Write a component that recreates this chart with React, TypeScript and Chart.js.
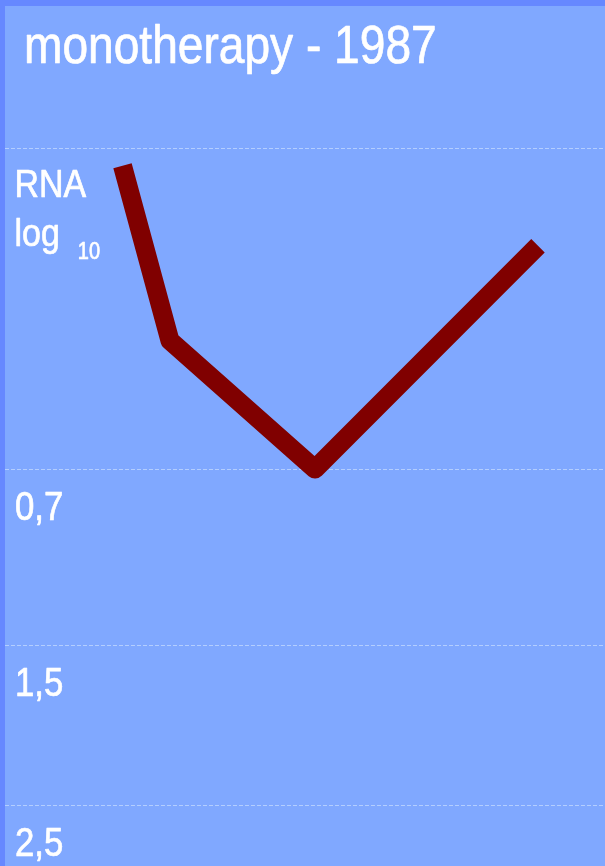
import React, { useEffect, useRef } from "react";
import { Chart, registerables } from "chart.js";

Chart.register(...registerables);

// ---- data ----
const TITLE = "monotherapy - 1987";
const TIME_POINTS = [11.75, 16.5, 31, 53.3];
const RNA_LEVELS = [10.69, 8.02, 6.06, 9.47];
const GRID_VALUES = [0.93, 3.37, 6.06, 10.95];
const GRID_LABELS = ["2,5", "1,5", "0,7", ""];
const AXIS_LABEL_LINES = ["RNA", "log"];
const AXIS_LABEL_SUB = "10";

const FONT = "'Liberation Sans', Arial, sans-serif";
const NARROW = 0.87; // horizontal squeeze to mimic a narrow face

const backgroundPlugin = {
  id: "slideBackground",
  beforeDraw(chart: any) {
    const { ctx, width, height } = chart;
    ctx.save();
    ctx.fillStyle = "#80A8FF";
    ctx.fillRect(0, 0, width, height);
    ctx.fillStyle = "#6688FF";
    ctx.fillRect(0, 0, 5, height);
    ctx.fillRect(0, 0, width, 6);
    ctx.restore();
  },
};

function narrowText(ctx: any, text: string, x: number, y: number, size: number) {
  ctx.save();
  ctx.font = `${size}px ${FONT}`;
  ctx.scale(NARROW, 1);
  ctx.fillStyle = "#FFFFFF";
  ctx.strokeStyle = "#FFFFFF";
  ctx.lineWidth = 0.7;
  ctx.lineJoin = "round";
  ctx.fillText(text, x / NARROW, y);
  ctx.strokeText(text, x / NARROW, y);
  const w = ctx.measureText(text).width * NARROW;
  ctx.restore();
  return w;
}

const textPlugin = {
  id: "slideText",
  afterDraw(chart: any) {
    const { ctx } = chart;
    const yScale = chart.scales.y;
    ctx.save();
    ctx.textBaseline = "alphabetic";
    ctx.textAlign = "left";
    narrowText(ctx, TITLE, 24, 63, 53);
    // tick labels under each grid line
    GRID_VALUES.forEach((v, i) => {
      const label = GRID_LABELS[i];
      if (!label) return;
      const py = yScale.getPixelForValue(v);
      narrowText(ctx, label, 15, py + 51, 40);
    });
    // axis label at the top grid line
    const top = yScale.getPixelForValue(GRID_VALUES[GRID_VALUES.length - 1]);
    narrowText(ctx, AXIS_LABEL_LINES[0], 14.5, top + 48, 39);
    const w = narrowText(ctx, AXIS_LABEL_LINES[1], 14.5, top + 97, 39);
    narrowText(ctx, AXIS_LABEL_SUB, 14.5 + w + 18, top + 110, 23);
    ctx.restore();
  },
};

export default function App() {
  const canvasRef = useRef<HTMLCanvasElement | null>(null);

  useEffect(() => {
    if (!canvasRef.current) return;
    const chart = new Chart(canvasRef.current, {
      type: "line",
      data: {
        datasets: [
          {
            data: TIME_POINTS.map((x, i) => ({ x, y: RNA_LEVELS[i] })),
            borderColor: "#800000",
            borderWidth: 19,
            borderJoinStyle: "round",
            borderCapStyle: "butt",
            pointRadius: 0,
            pointHoverRadius: 0,
            tension: 0,
            fill: false,
          },
        ],
      },
      options: {
        animation: false,
        responsive: false,
        events: [],
        layout: { padding: { left: 5, top: 80, right: 0, bottom: 0 } },
        plugins: {
          legend: { display: false },
          tooltip: { enabled: false },
          title: { display: false },
        },
        scales: {
          x: { type: "linear", display: false, min: 0, max: 60 },
          y: {
            type: "linear",
            min: 0,
            max: 12,
            afterBuildTicks: (axis: any) => {
              axis.ticks = GRID_VALUES.map((v) => ({ value: v }));
            },
            afterFit: (axis: any) => {
              axis.width = 0;
              axis.paddingTop = 0;
              axis.paddingBottom = 0;
            },
            grid: {
              color: "#B4CEFF",
              lineWidth: 1,
              drawTicks: false,
            },
            border: { display: false, dash: [4, 2] },
            ticks: { display: false },
          },
        },
      },
      plugins: [backgroundPlugin, textPlugin],
    } as any);
    return () => chart.destroy();
  }, []);

  return (
    <div style={{ position: "fixed", left: 0, top: 0, width: 605, height: 866 }}>
      <canvas ref={canvasRef} width={605} height={866} style={{ display: "block" }} />
    </div>
  );
}
